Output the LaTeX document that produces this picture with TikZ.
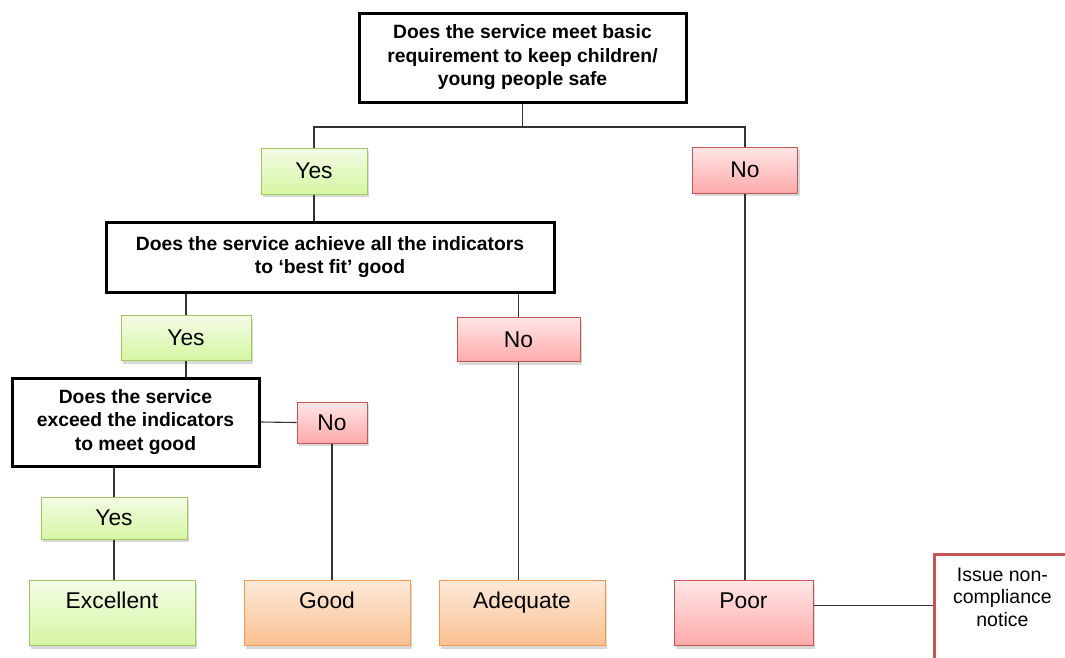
\documentclass[tikz,border=0pt]{standalone}
\usepackage{fontspec}
\setmainfont{Liberation Sans}
\usetikzlibrary{shadows}

\definecolor{yesline}{RGB}{160,200,95}
\definecolor{yestop}{RGB}{243,252,230}
\definecolor{yesbot}{RGB}{214,246,162}
\definecolor{noline}{RGB}{200,85,85}
\definecolor{notop}{RGB}{255,230,230}
\definecolor{nobot}{RGB}{255,170,170}
\definecolor{okline}{RGB}{245,155,80}
\definecolor{oktop}{RGB}{253,233,217}
\definecolor{okbot}{RGB}{251,192,145}

\begin{document}
\begin{tikzpicture}[x=1pt,y=-1pt,
  question/.style={draw,line width=3pt,fill=white,align=center,inner sep=0pt,
    font=\bfseries\fontsize{19.3}{23.5}\selectfont},
  box/.style={draw,line width=1pt,inner sep=0pt,
    drop shadow={shadow xshift=2pt,shadow yshift=-3pt,opacity=.3},
    font=\fontsize{22.8}{24}\selectfont},
  yesbox/.style={box,draw=yesline,top color=yestop,bottom color=yesbot},
  nobox/.style={box,draw=noline,top color=notop,bottom color=nobot},
  okbox/.style={box,draw=okline,top color=oktop,bottom color=okbot},
  result/.style={anchor=north,minimum width=166pt,inner ysep=6pt,
    text height=22pt,text depth=31pt},
  link/.style={draw=black!80,line width=1.1pt}]
  \useasboundingbox (0,0) rectangle (1065,657);
  \clip (0,0) rectangle (1065,657);

  % questions
  \node (q1) at (522.5,57.5) [question,minimum width=327pt,minimum height=89pt]
    {Does the service meet basic\\requirement to keep children/\\young people safe};
  \node (q2) at (330,257) [question,minimum width=448pt,minimum height=70pt]
    {Does the service achieve all the indicators\\to ‘best fit’ good};
  \node (q3) at (135.5,422) [question,minimum width=247pt,minimum height=88pt]
    {Does the service\\exceed the indicators\\to meet good};

  % answers
  \node (yes1) at (314,171) [yesbox,minimum width=106pt,minimum height=46pt] {Yes};
  \node (no1) at (745,170) [nobox,minimum width=105pt,minimum height=46pt] {No};
  \node (yes2) at (186,338) [yesbox,minimum width=130pt,minimum height=45pt] {Yes};
  \node (no2) at (518.5,339.5) [nobox,minimum width=123pt,minimum height=44pt] {No};
  \node (no3) at (332,422.5) [nobox,minimum width=70pt,minimum height=41pt] {No};
  \node (yes3) at (114,518) [yesbox,minimum width=146pt,minimum height=42pt] {Yes};

  % ratings
  \node (excellent) at (112,580) [yesbox,result] {Excellent};
  \node (good) at (327,580) [okbox,result] {Good};
  \node (adequate) at (522,580) [okbox,result] {Adequate};
  \node (poor) at (743.5,580) [nobox,result,minimum width=139pt] {Poor};
  \node (notice) at (933,553) [draw=noline,line width=2.8pt,fill=white,anchor=north west,
    align=center,minimum width=136pt,inner ysep=6pt,text height=66pt,text depth=100pt,
    font=\fontsize{19.5}{22.5}\selectfont] {Issue non-\\compliance\\notice};

  \coordinate (fork1) at (q1.south |- 0,127);
  \draw[link] (q1.south) -- (fork1);
  \draw[link] (yes1.north) |- (fork1) -| (no1.north);
  \draw[link] (yes1.south) -- (yes1.south |- q2.north);
  \draw[link] (yes2.north) -- (yes2.north |- q2.south);
  \draw[link] (no2.north) -- (no2.north |- q2.south);
  \draw[link] (yes2.south) -- (yes2.south |- q3.north);
  \draw[link] (q3.east) -- (no3.west);
  \draw[link] (yes3.north) -- (yes3.north |- q3.south);
  \draw[link] (yes3.south) -- (yes3.south |- excellent.north);
  \draw[link] (no3.south) -- (no3.south |- good.north);
  \draw[link] (no2.south) -- (no2.south |- adequate.north);
  \draw[link] (no1.south) -- (no1.south |- poor.north);
  \draw[link] (poor.mid east) -- (poor.mid east -| notice.west);
\end{tikzpicture}
\end{document}
